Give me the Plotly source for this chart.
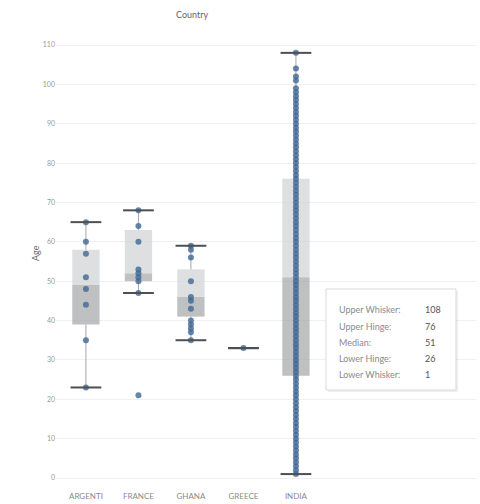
import plotly.graph_objects as go

# ---------------- data ----------------
countries = ["ARGENTI", "FRANCE", "GHANA", "GREECE", "INDIA"]
upper_whisker = [65, 68, 59, 33, 108]
upper_hinge = [58, 63, 53, 33, 76]
median = [49, 52, 46, 33, 51]
lower_hinge = [39, 50, 41, 33, 26]
lower_whisker = [23, 47, 35, 33, 1]

argentina_ages = [65, 60, 57, 51, 48, 44, 35, 23]
france_ages = [68, 64, 60, 53, 52, 51, 50, 47, 21]
ghana_ages = [59, 58, 56, 50, 46, 45, 43, 40, 39, 38, 37, 35]
greece_ages = [33]
india_ages = [1, 2, 3, 4, 5, 6, 7, 8, 9, 10, 11, 12, 13, 14, 15, 16, 17, 18, 19, 20,
              21, 22, 23, 24, 25, 26, 27, 28, 29, 30, 31, 32, 33, 34, 35, 36, 37, 38, 39, 40,
              41, 42, 43, 44, 45, 46, 47, 48, 49, 50, 51, 52, 53, 54, 55, 56, 57, 58, 59, 60,
              61, 62, 63, 64, 65, 66, 67, 68, 69, 70, 71, 72, 73, 74, 75, 76, 77, 78, 79, 80,
              81, 82, 83, 84, 85, 86, 87, 88, 89, 90, 91, 92, 93, 94, 95, 96, 97, 98, 99, 101,
              102, 104, 108]

y_ticks = [0, 10, 20, 30, 40, 50, 60, 70, 80, 90, 100, 110]
tooltip_labels = ["Upper Whisker:", "Upper Hinge:", "Median:", "Lower Hinge:", "Lower Whisker:"]

# ---------------- figure ----------------
fig = go.Figure()

point_sets = [argentina_ages, france_ages, ghana_ages, greece_ages, india_ages]
px, py = [], []
for c, ages in zip(countries, point_sets):
    px += [c] * len(ages)
    py += ages

# whisker lines (upper and lower segments)
fig.add_trace(go.Scatter(
    x=countries, y=upper_hinge, mode="markers", marker=dict(size=0.1, opacity=0),
    error_y=dict(type="data", symmetric=False,
                 array=[u - h for u, h in zip(upper_whisker, upper_hinge)],
                 arrayminus=[0] * len(countries), width=0, thickness=1, color="#a8a8a8"),
    hoverinfo="skip", showlegend=False))
fig.add_trace(go.Scatter(
    x=countries, y=lower_hinge, mode="markers", marker=dict(size=0.1, opacity=0),
    error_y=dict(type="data", symmetric=False, array=[0] * len(countries),
                 arrayminus=[h - l for h, l in zip(lower_hinge, lower_whisker)],
                 width=0, thickness=1, color="#a8a8a8"),
    hoverinfo="skip", showlegend=False))

# data points
fig.add_trace(go.Scatter(
    x=px, y=py, mode="markers",
    marker=dict(size=6, color="#3f6894", opacity=0.8, line=dict(width=0)),
    showlegend=False))

# two-tone boxes
fig.add_trace(go.Bar(
    x=countries, y=[m - q for m, q in zip(median, lower_hinge)], base=lower_hinge,
    width=0.52, marker=dict(color="rgba(166,167,170,0.72)", line=dict(width=0)),
    showlegend=False))
fig.add_trace(go.Bar(
    x=countries, y=[q - m for q, m in zip(upper_hinge, median)], base=median,
    width=0.52, marker=dict(color="rgba(208,210,214,0.72)", line=dict(width=0)),
    showlegend=False))

# whisker caps
fig.add_trace(go.Scatter(
    x=countries + countries, y=upper_whisker + lower_whisker, mode="markers",
    marker=dict(symbol="line-ew-open", size=22, color="#4d4f52",
                line=dict(width=2, color="#4d4f52")),
    showlegend=False))

# layout geometry (plot area: x 56..476, y 40..486)
L, R, T, B = 56, 4, 40, 18
W, H = 480 - L - R, 504 - T - B


def pxx(v):
    return (v - L) / W


def pyy(v):
    return (504 - B - v) / H


shapes = [
    dict(type="rect", xref="paper", yref="paper", x0=pxx(328), x1=pxx(458), y0=pyy(392), y1=pyy(291),
         fillcolor="rgba(0,0,0,0.06)", line=dict(width=0), layer="above"),
    dict(type="rect", xref="paper", yref="paper", x0=pxx(326), x1=pxx(456), y0=pyy(390), y1=pyy(289),
         fillcolor="white", line=dict(width=1, color="#d9d9d9"), layer="above"),
]

annotations = [
    dict(text="Country", xref="paper", yref="paper", x=pxx(192), y=pyy(15),
         showarrow=False, font=dict(size=9, color="#666666", family="Lato"), xanchor="center", yanchor="middle"),
    dict(text="Age", xref="paper", yref="paper", x=pxx(35), y=pyy(253), textangle=-90,
         showarrow=False, font=dict(size=9, color="#666666", family="Lato"), xanchor="center", yanchor="middle"),
]
india_vals = [upper_whisker[4], upper_hinge[4], median[4], lower_hinge[4], lower_whisker[4]]
row_y = [309, 326, 342, 358, 374]
for lab, val, ry in zip(tooltip_labels, india_vals, row_y):
    annotations.append(dict(text=lab, xref="paper", yref="paper", x=pxx(337), y=pyy(ry),
                            showarrow=False, xanchor="left", yanchor="middle",
                            font=dict(size=9, color="#8a8a8a", family="Lato")))
    annotations.append(dict(text=str(val), xref="paper", yref="paper", x=pxx(423), y=pyy(ry),
                            showarrow=False, xanchor="left", yanchor="middle",
                            font=dict(size=9, color="#555555", family="Lato")))

fig.update_layout(
    width=480, height=504,
    margin=dict(l=L, r=R, t=T, b=B, autoexpand=False),
    paper_bgcolor="white", plot_bgcolor="white",
    barmode="overlay", showlegend=False,
    font=dict(family="Lato", size=8, color="#999999"),
    shapes=shapes, annotations=annotations,
    xaxis=dict(type="category", categoryorder="array", categoryarray=countries,
               range=[-0.57, 7.43], showgrid=False, zeroline=False, showline=False,
               ticks="", automargin=False, ticklabelstandoff=4,
               tickfont=dict(size=8, color="#8a8a8a", family="Lato")),
    yaxis=dict(range=[-2.03, 111.27], tickvals=y_ticks, showgrid=True, gridcolor="#f0f0f0",
               gridwidth=1, zeroline=False, showline=False, ticks="", automargin=False,
               tickfont=dict(size=7, color="#9a9a9a", family="Lato")),
)

fig.write_html("out.html", config={"displayModeBar": False},
               post_script="document.body.style.margin='0';document.body.style.padding='0';")
